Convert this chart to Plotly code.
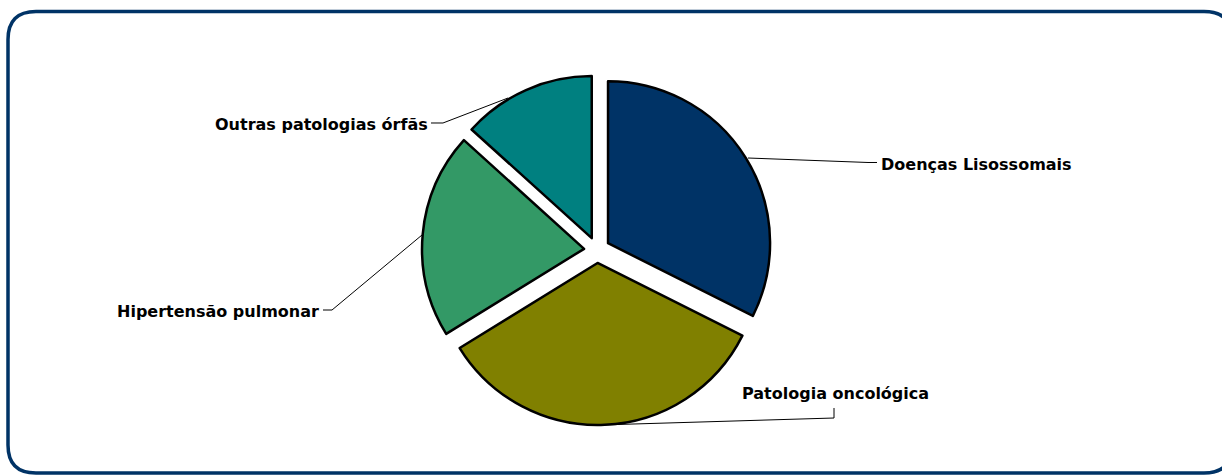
import plotly.graph_objects as go

labels = ["Doenças Lisossomais", "Patologia oncológica", "Hipertensão pulmonar", "Outras patologias órfãs"]
values = [32.4, 33.8, 20.5, 13.3]
colors = ["#003366", "#808000", "#339966", "#008080"]

W, H = 1222, 475

def px(x):
    return x / W

def py(y):
    return 1 - y / H

fig = go.Figure(go.Pie(
    labels=labels,
    values=values,
    sort=False,
    direction="clockwise",
    rotation=0,
    pull=[0.08] * len(values),
    marker=dict(colors=colors, line=dict(color="black", width=2.5)),
    textinfo="none",
    hoverinfo="label+percent",
    showlegend=False,
    domain=dict(x=[px(597 - 200), px(597 + 200)], y=[py(250 + 175), py(250 - 175)]),
))

font = dict(family="DejaVu Sans", size=16, color="black")

# label annotations: (text, x, y, anchor)
label_pos = [
    (labels[0], 879, 165, "left"),
    (labels[1], 740, 393, "left"),
    (labels[2], 321, 311, "right"),
    (labels[3], 430, 125, "right"),
]
for t, x, y, anc in label_pos:
    fig.add_annotation(text="<b>%s</b>" % t, x=px(x), y=py(y), xref="paper", yref="paper",
                       xanchor=anc, yanchor="middle", showarrow=False, font=font)

# leader lines
leaders = [
    [(748, 158), (868, 162.5), (877, 162.5)],
    [(600, 425), (834, 418), (834, 408)],
    [(323, 310), (332, 310), (422, 235)],
    [(431, 123), (443, 123), (508, 98)],
]
for pts in leaders:
    d = "M " + " L ".join("%f,%f" % (px(x), py(y)) for x, y in pts)
    fig.add_shape(type="path", path=d, xref="paper", yref="paper",
                  line=dict(color="black", width=1))

# rounded frame
L, T, R, B, r = 8, 11.5, 1232, 473, 28
fx = lambda x: "%f" % px(x)
fy = lambda y: "%f" % py(y)
frame = (
    f"M {fx(L + r)},{fy(T)} L {fx(R - r)},{fy(T)} Q {fx(R)},{fy(T)} {fx(R)},{fy(T + r)} "
    f"L {fx(R)},{fy(B - r)} Q {fx(R)},{fy(B)} {fx(R - r)},{fy(B)} "
    f"L {fx(L + r)},{fy(B)} Q {fx(L)},{fy(B)} {fx(L)},{fy(B - r)} "
    f"L {fx(L)},{fy(T + r)} Q {fx(L)},{fy(T)} {fx(L + r)},{fy(T)} Z"
)
fig.add_shape(type="path", path=frame, xref="paper", yref="paper",
              line=dict(color="#003366", width=3.5), layer="above")

fig.update_layout(
    width=W, height=H,
    margin=dict(l=0, r=0, t=0, b=0),
    paper_bgcolor="white",
    plot_bgcolor="white",
)

fig.write_html("out.html", config={"displayModeBar": False},
               post_script="document.body.style.margin='0';")
